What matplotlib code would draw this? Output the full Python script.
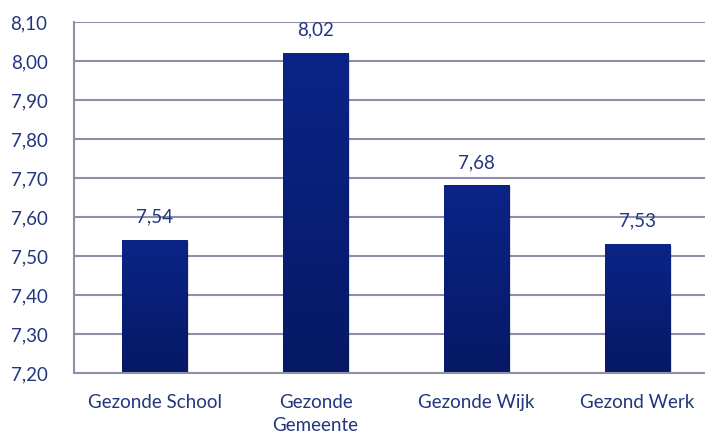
import matplotlib

matplotlib.use("Agg")
import matplotlib.pyplot as plt
import numpy as np
from matplotlib.ticker import FuncFormatter

categories = ["Gezonde School", "Gezonde\nGemeente", "Gezonde Wijk", "Gezond Werk"]
scores = [7.54, 8.02, 7.68, 7.53]
yticks = [7.20, 7.30, 7.40, 7.50, 7.60, 7.70, 7.80, 7.90, 8.00, 8.10]

TEXT = "#22367f"
GRID = "#8e8fa8"
TOP, BOTTOM = "#0b2487", "#061965"

plt.rcParams.update({"font.family": ["Lato", "DejaVu Sans"], "font.size": 13.5})

fig = plt.figure(figsize=(7.05, 4.34), dpi=100)
W, H = 705, 434
ax = fig.add_axes([74 / W, 1 - 373 / H, 644 / W, 351 / H])

x = np.arange(len(categories))
width = 0.404
ymin, ymax = yticks[0], yticks[-1]

# gradient fill for the bars
grad = np.linspace(0, 1, 256)[:, None]
cmap = matplotlib.colors.LinearSegmentedColormap.from_list("bar", [BOTTOM, TOP])
for xi, v in zip(x, scores):
    # soft shadow
    ax.bar(xi + 0.012, v - ymin, width, bottom=ymin - 0.004, color="#000000",
           alpha=0.12, zorder=2, linewidth=0)
    ax.imshow(grad, extent=(xi - width / 2, xi + width / 2, ymin, v),
              origin="lower", cmap=cmap, aspect="auto", zorder=3)
    ax.text(xi, v + 0.038, f"{v:.2f}".replace(".", ","), ha="center",
            va="bottom", color=TEXT)

ax.set_xlim(-0.5, len(categories) - 0.5)
ax.set_ylim(ymin, ymax)
ax.set_yticks(yticks)
ax.yaxis.set_major_formatter(FuncFormatter(lambda v, _: f"{v:.2f}".replace(".", ",")))
ax.set_xticks(x)
ax.set_xticklabels(categories, color=TEXT, linespacing=1.45)
ax.tick_params(axis="y", colors=TEXT, length=0, pad=19)
ax.tick_params(axis="x", colors=TEXT, length=0, pad=15)

ax.grid(axis="y", color=GRID, lw=1.5, zorder=1)
ax.set_axisbelow(True)
for s in ("top", "right"):
    ax.spines[s].set_visible(False)
for s in ("left", "bottom"):
    ax.spines[s].set_color(GRID)
    ax.spines[s].set_linewidth(1.5)
ax.spines["bottom"].set_zorder(4)

fig.savefig("out.png", dpi=100)
